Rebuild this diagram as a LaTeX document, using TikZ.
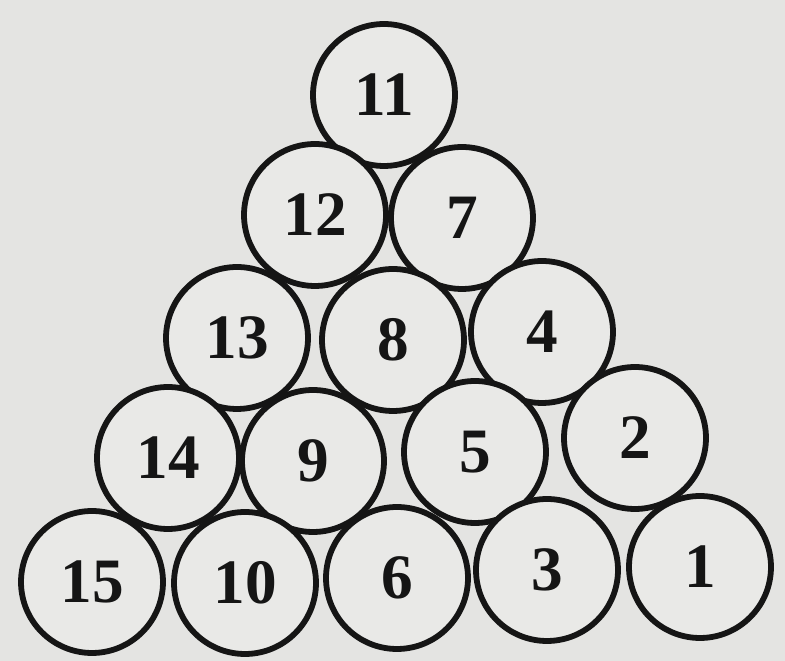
\documentclass[tikz,border=0pt]{standalone}
\usepackage{fontspec}
\setmainfont{Liberation Serif}
\definecolor{paper}{HTML}{E4E4E2}
\definecolor{disc}{HTML}{E9E9E7}
\definecolor{ink}{HTML}{151515}
\begin{document}
\begin{tikzpicture}[x=0.02cm,y=-0.02cm,
  ball/.style={circle,draw=ink,fill=disc,line width=3.3pt,minimum size=2.84cm,inner sep=0pt,
    font=\fontsize{36}{36}\selectfont\bfseries,text=ink}]
\fill[paper] (0,0) rectangle (785,661);
\useasboundingbox (0,0) rectangle (785,661);
\node[ball] (n11) at (384,95) {11};
\node[ball] (n12) at (315,215) {12};
\node[ball] (n7) at (462,218) {7};
\node[ball] (n13) at (237,338) {13};
\node[ball] (n8) at (393,340) {8};
\node[ball] (n4) at (542,332) {4};
\node[ball] (n14) at (168,458) {14};
\node[ball] (n9) at (313,461) {9};
\node[ball] (n5) at (475,452) {5};
\node[ball] (n2) at (635,438) {2};
\node[ball] (n15) at (92,582) {15};
\node[ball] (n10) at (245,583) {10};
\node[ball] (n6) at (397,578) {6};
\node[ball] (n3) at (547,570) {3};
\node[ball] (n1) at (700,567) {1};
\end{tikzpicture}
\end{document}
